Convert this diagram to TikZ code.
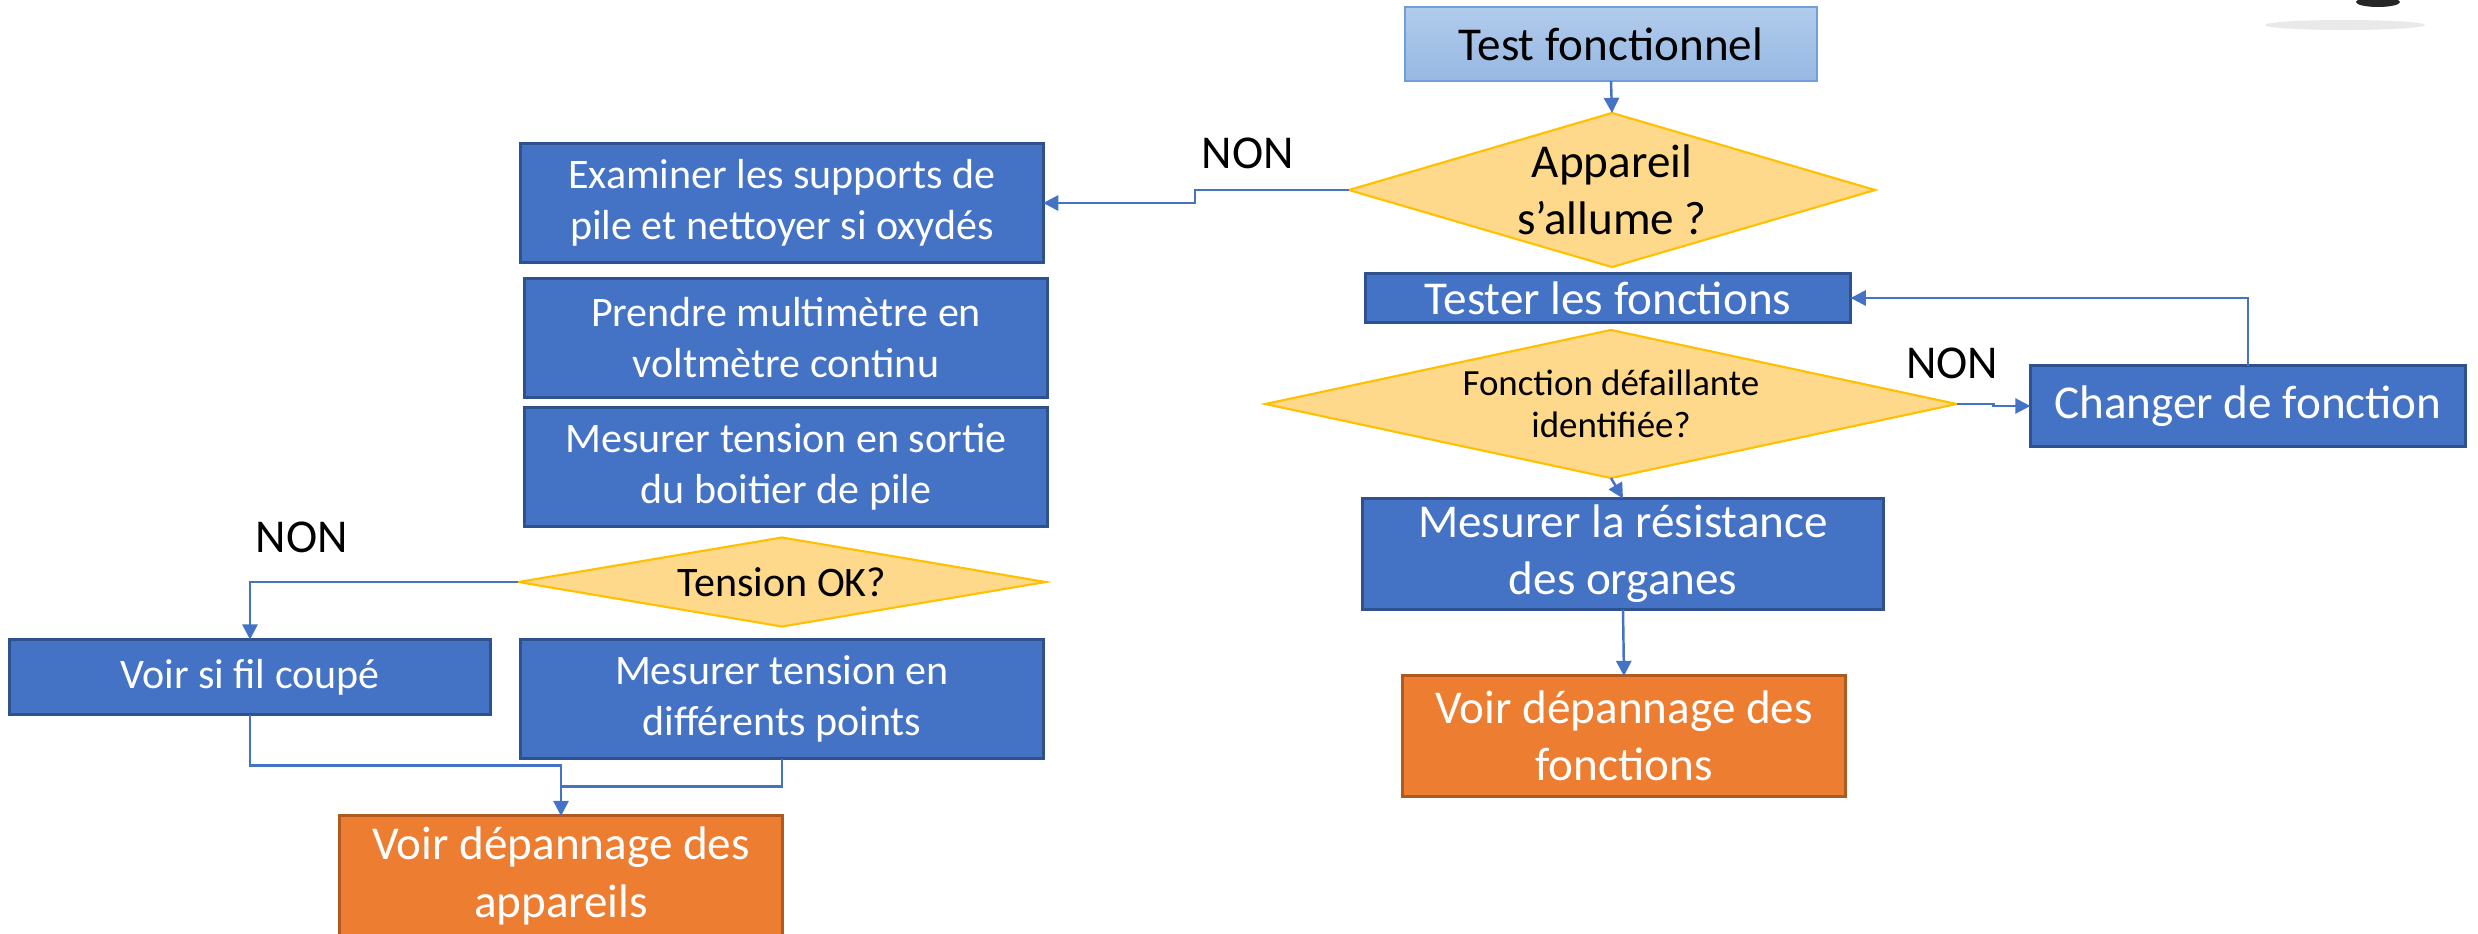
\documentclass[tikz,border=0pt]{standalone}
\usepackage{fontspec}
\setmainfont{Carlito}
\usepackage{tikz}
\usetikzlibrary{arrows.meta,shapes.geometric,positioning}
\definecolor{bxfill}{HTML}{4472C4}
\definecolor{bxline}{HTML}{2F528F}
\definecolor{dcfill}{HTML}{FFD98B}
\definecolor{dcline}{HTML}{FFC000}
\definecolor{ocfill}{HTML}{ED7D31}
\definecolor{ocline}{HTML}{AE5A21}
\definecolor{tsttop}{HTML}{B1CBEC}
\definecolor{tstbot}{HTML}{97B8E2}
\definecolor{tstline}{HTML}{6F9FDA}
\tikzset{
	flow chart/.style={
		x=.01cm, y=-.01cm,
		every node/.style={inner sep=0pt, outer sep=0pt, align=center},
		big/.style={font=\fontsize{13.4}{16.3}\selectfont},
		mid/.style={font=\fontsize{11.95}{14.5}\selectfont},
		sml/.style={font=\fontsize{10.5}{11.8}\selectfont},
		ar/.style={draw=bxfill, line width=.7pt, -{Triangle[length=4.3pt, width=4.3pt]}},
		wire/.style={draw=bxfill, line width=.7pt},
		lbl/.style={big, text=black}
		},
	sz/.style 2 args={minimum width=#1cm, minimum height=#2cm},
	box/.style={draw=bxline, fill=bxfill, line width=.85pt, text=white},
	start/.style={draw=tstline, top color=tsttop, bottom color=tstbot, line width=.6pt, text=black},
	decision/.style={diamond, draw=dcline, fill=dcfill, line width=.6pt, text=black, inner sep=-60pt},
	outcome/.style={draw=ocline, fill=ocfill, line width=.85pt, text=white}
}

\begin{document}
\begin{tikzpicture}[flow chart]
	\useasboundingbox (0,0) rectangle (2478,933);
	% faint photo scrap, top right
	\fill[black!25, opacity=.35] (2345,25) ellipse [x radius=.8cm, y radius=.05cm];
	\fill[black!85] (2378,2) ellipse [x radius=.22cm, y radius=.05cm];
	% right branch
	\node[start, big, sz={4.12}{.74}] (test) at (1611,44) {Test fonctionnel};
	\node[decision, big, sz={5.26}{1.54}] (allume) at (1612,190) {Appareil\\s’allume ?};
	\node[box, big, sz={4.85}{.48}] (tester) at (1608,298) {Tester les fonctions};
	\node[decision, sml, sz={6.91}{1.48}] (defaill) at (1611,404) {Fonction défaillante\\identifiée?};
	\node[box, big, sz={4.35}{.80}] (changer) at (2248,406) {Changer de fonction};
	\node[box, big, sz={5.21}{1.11}] (resist) at (1623,554) {Mesurer la résistance\\des organes};
	\node[outcome, big, sz={4.42}{1.20}] (fonctions) at (1624,736) {Voir dépannage des\\fonctions};
	% left branch
	\node[box, mid, sz={5.22}{1.19}] (examiner) at (782,203) {Examiner les supports de\\pile et nettoyer si oxydés};
	\node[box, mid, sz={5.22}{1.19}] (prendre) at (786,338) {Prendre multimètre en\\voltmètre continu};
	\node[box, mid, sz={5.22}{1.19}] (sortie) at (786,467) {Mesurer tension en sortie\\du boitier de pile};
	\node[decision, mid, sz={5.27}{.89}] (tension) at (782,582) {Tension OK?};
	\node[box, mid, sz={4.81}{.75}] (fil) at (250,677) {Voir si fil coupé};
	\node[box, mid, sz={5.22}{1.19}] (points) at (782,699) {Mesurer tension en\\différents points};
	\node[outcome, big, sz={4.42}{1.20}] (appareils) at (561,876) {Voir dépannage des\\appareils};
	% labels
	\node[lbl] (non1) at (1248,153) {NON};
	\node[lbl] (non2) at (302,537) {NON};
	\node[lbl] (non3) at (1952,363) {NON};
	% connectors
	\draw[ar] (test.south) -- (allume.north);
	\draw[ar] (allume.west) -- ++(-154,0) |- (examiner.east);
	\draw[ar] (tension.west) -| (fil.north);
	\draw[ar] (fil.south) -- ++(0,51) -| (appareils.north);
	\draw[wire] (points.south) -- ++(0,28) -| (appareils.north);
	\draw[ar] (defaill.east) -- ++(37,0) |- (changer.west);
	\draw[ar] (changer.north) |- (tester.east);
	\draw[ar] (defaill.south) -- (resist.north);
	\draw[ar] (resist.south) -- (fonctions.north);
\end{tikzpicture}
\end{document}
